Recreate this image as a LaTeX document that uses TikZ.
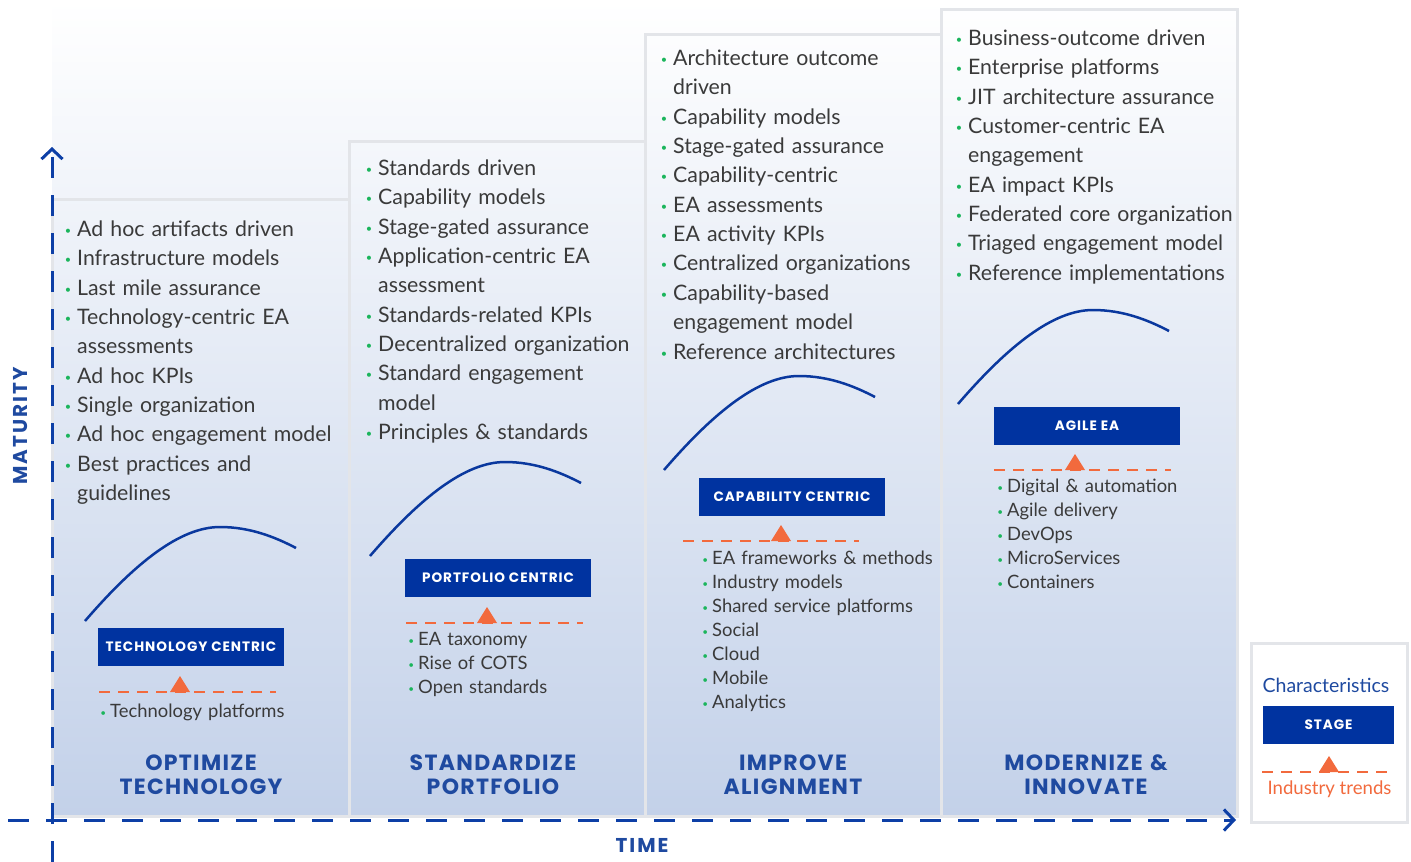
\documentclass[tikz,border=0pt]{standalone}
\usepackage{fontspec}
\setmainfont{Lato}
\newfontfamily\capsfont{Poppins}
\usetikzlibrary{arrows.meta}

\definecolor{axisblue}{HTML}{0D3FA6}
\definecolor{curveblue}{HTML}{0A389E}
\definecolor{stageblue}{HTML}{0033A0}
\definecolor{titleblue}{HTML}{1F4AA0}
\definecolor{trendorange}{HTML}{F26A3D}
\definecolor{bulletgreen}{HTML}{1BB55C}
\definecolor{bodygray}{HTML}{3A3A3A}
\definecolor{framegray}{HTML}{E3E5E9}
\definecolor{bgbottom}{HTML}{C3D1E9}

% green list bullets hanging left of the text
\newcommand\gdot{\leavevmode\llap{\textcolor{bulletgreen}{\fontsize{11}{11}\selectfont\raisebox{2pt}{•}}\hspace{6pt}}}
\newcommand\tdot{\leavevmode\llap{\textcolor{bulletgreen}{\fontsize{10}{10}\selectfont\raisebox{1.5pt}{•}}\hspace{4pt}}}

\tikzset{
  frame/.style={draw=framegray, line width=3pt},
  axis/.style={draw=axisblue, line width=3pt, dash pattern=on 21pt off 17pt,
    -{Straight Barb[length=10pt, width=21pt]}},
  curve/.style={draw=curveblue, line width=2.5pt},
  trendline/.style={draw=trendorange, line width=2.6pt, dash pattern=on 11pt off 8pt},
  chars/.style={anchor=base west, inner sep=0pt, text width=290pt, align=left,
    text=bodygray, font=\fontsize{21.3}{29.35}\selectfont},
  trends/.style={anchor=base west, inner sep=0pt, text width=260pt, align=left,
    text=bodygray, font=\fontsize{18.4}{24}\selectfont},
  title/.style={anchor=base, inner sep=0pt, text width=290pt, align=center,
    text=titleblue, font=\capsfont\bfseries\fontsize{22}{24.7}\selectfont\addfontfeatures{LetterSpace=6}},
  stagebox/.style={fill=stageblue, text=white, minimum width=186pt, minimum height=38pt,
    inner sep=0pt, font=\capsfont\bfseries\fontsize{13.6}{13.6}\selectfont\addfontfeatures{LetterSpace=7}},
  axislabel/.style={text=titleblue, inner sep=0pt,
    font=\capsfont\bfseries\fontsize{20}{20}\selectfont\addfontfeatures{LetterSpace=10}},
  growth/.pic={\draw[curve] (0,0) .. controls (50,-58) and (95,-94) .. (135,-94)
    .. controls (165,-94) and (190,-84) .. (211,-73);},
  marker/.style={fill=trendorange},
}

\begin{document}
\begin{tikzpicture}[x=1pt, y=-1pt]
\useasboundingbox (0,0) rectangle (1411,862);

% backdrop and stage columns
\fill[top color=white, bottom color=bgbottom] (52,0) rectangle (1237,816);
\draw[frame] (52,199) rectangle (349,816);
\draw[frame] (349,141) rectangle (645,816);
\draw[frame] (645,34) rectangle (941,816);
\draw[frame] (941,9) rectangle (1237,816);

% legend box
\draw[frame, fill=white] (1251,643) rectangle (1407,822);

% axes
\coordinate (yfoot) at (52,862);
\coordinate (ytip) at (52,147);
\coordinate (xfoot) at (8,820);
\coordinate (xtip) at (1236,820);
\draw[axis] (yfoot) -- (ytip);
\draw[axis] (xfoot) -- (xtip);
\node[axislabel, rotate=90] (maturity) at (20.5,426) {MATURITY};
\node[axislabel] (time) at (642,845) {TIME};

% maturity curves
\pic at (85,621) {growth};
\pic at (370,556) {growth};
\pic at (664,470) {growth};
\pic at (958,404) {growth};

% stage boxes
\node[stagebox] (s1) at (191,647) {TECHNOLOGY CENTRIC};
\node[stagebox] (s2) at (498,578) {PORTFOLIO CENTRIC};
\node[stagebox] (s3) at (792,497) {CAPABILITY CENTRIC};
\node[stagebox] (s4) at (1087,426) {AGILE EA};
\node[stagebox, minimum width=131pt] (s5) at (1328.5,725) {STAGE};

% industry trend markers
\coordinate (m1a) at (99,692);   \coordinate (m1b) at (276,692);
\coordinate (m2a) at (406,623);  \coordinate (m2b) at (583,623);
\coordinate (m3a) at (683,541);  \coordinate (m3b) at (859,541);
\coordinate (m4a) at (994,470);  \coordinate (m4b) at (1171,470);
\coordinate (m5a) at (1262,772); \coordinate (m5b) at (1394,772);
\draw[trendline] (m1a) -- (m1b);
\draw[trendline] (m2a) -- (m2b);
\draw[trendline] (m3a) -- (m3b);
\draw[trendline] (m4a) -- (m4b);
\draw[trendline] (m5a) -- (m5b);
\fill[marker] (170,692) -- (180,676) -- (190,692) -- cycle;
\fill[marker] (477,623) -- (487,607) -- (497,623) -- cycle;
\fill[marker] (771,541) -- (781,525) -- (791,541) -- cycle;
\fill[marker] (1065,470) -- (1075,454) -- (1085,470) -- cycle;
\fill[marker] (1319,772) -- (1329,756) -- (1339,772) -- cycle;

% characteristics
\node[chars] (c1) at (77,236.5) {\gdot Ad hoc artifacts driven\\
  \gdot Infrastructure models\\
  \gdot Last mile assurance\\
  \gdot Technology-centric EA\\
  assessments\\
  \gdot Ad hoc KPIs\\
  \gdot Single organization\\
  \gdot Ad hoc engagement model\\
  \gdot Best practices and\\
  guidelines};
\node[chars] (c2) at (378,175.5) {\gdot Standards driven\\
  \gdot Capability models\\
  \gdot Stage-gated assurance\\
  \gdot Application-centric EA\\
  assessment\\
  \gdot Standards-related KPIs\\
  \gdot Decentralized organization\\
  \gdot Standard engagement\\
  model\\
  \gdot Principles \& standards};
\node[chars] (c3) at (673,65.5) {\gdot Architecture outcome\\
  driven\\
  \gdot Capability models\\
  \gdot Stage-gated assurance\\
  \gdot Capability-centric\\
  \gdot EA assessments\\
  \gdot EA activity KPIs\\
  \gdot Centralized organizations\\
  \gdot Capability-based\\
  engagement model\\
  \gdot Reference architectures};
\node[chars] (c4) at (968,45.5) {\gdot Business-outcome driven\\
  \gdot Enterprise platforms\\
  \gdot JIT architecture assurance\\
  \gdot Customer-centric EA\\
  engagement\\
  \gdot EA impact KPIs\\
  \gdot Federated core organization\\
  \gdot Triaged engagement model\\
  \gdot Reference implementations};

% industry trends
\node[trends] (t1) at (110,717.5) {\tdot Technology platforms};
\node[trends] (t2) at (418,645.5) {\tdot EA taxonomy\\
  \tdot Rise of COTS\\
  \tdot Open standards};
\node[trends] (t3) at (712,564.5) {\tdot EA frameworks \& methods\\
  \tdot Industry models\\
  \tdot Shared service platforms\\
  \tdot Social\\
  \tdot Cloud\\
  \tdot Mobile\\
  \tdot Analytics};
\node[trends] (t4) at (1007,492.5) {\tdot Digital \& automation\\
  \tdot Agile delivery\\
  \tdot DevOps\\
  \tdot MicroServices\\
  \tdot Containers};

% stage titles
\node[title] (h1) at (201,770) {OPTIMIZE\\TECHNOLOGY};
\node[title] (h2) at (493,770) {STANDARDIZE\\PORTFOLIO};
\node[title] (h3) at (793,770) {IMPROVE\\ALIGNMENT};
\node[title] (h4) at (1086,770) {MODERNIZE \&\\INNOVATE};

% legend texts
\node[anchor=base, inner sep=0pt, text=titleblue, font=\fontsize{19.5}{19.5}\selectfont] (lg1) at (1326,692) {Characteristics};
\node[anchor=base, inner sep=0pt, text=trendorange, font=\fontsize{18.6}{18.6}\selectfont] (lg2) at (1329.5,794) {Industry trends};
\end{tikzpicture}
\end{document}
